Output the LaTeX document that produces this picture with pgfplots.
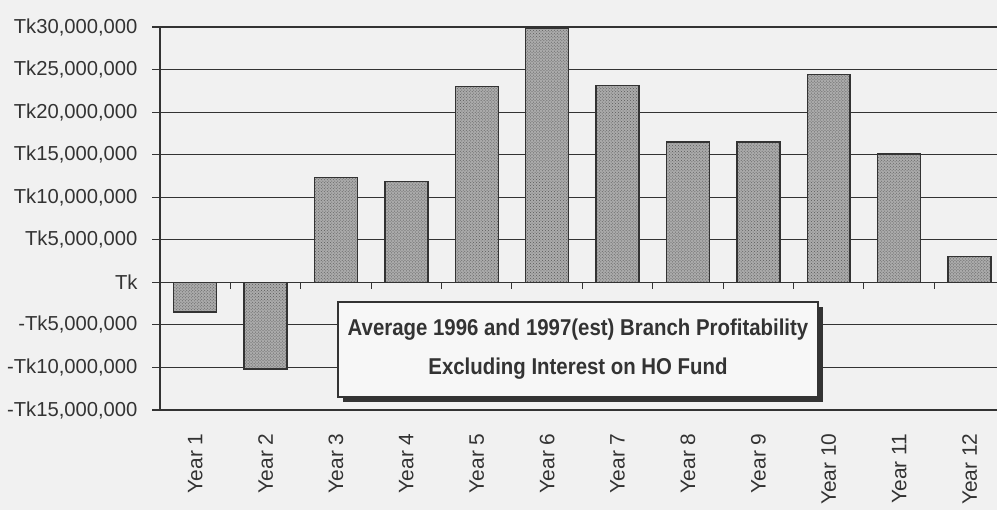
\documentclass[border=0pt]{standalone}
\usepackage{fontspec}
\setmainfont{Liberation Sans}
\newfontfamily\narrowfont[FakeStretch=0.89]{Liberation Sans}
\usepackage{pgfplots}
\pgfplotsset{compat=1.18}
\usetikzlibrary{patterns,shadows}
\definecolor{ink}{HTML}{333333}
\definecolor{paper}{HTML}{F1F1F1}

\pgfplotstableread{
x  y
1  -3.5
2  -10.2
3  12.3
4  11.85
5  23.0
6  29.9
7  23.1
8  16.5
9  16.5
10 24.4
11 15.1
12 3.05
}\profit

\begin{document}
\begin{tikzpicture}[x=1bp,y=1bp]
  \fill[paper,use as bounding box] (0,0) rectangle (997,510);
  \begin{axis}[at={(160bp,100bp)},anchor=south west,scale only axis,
    width=837bp,height=383bp,
    xmin=0.5,xmax=12.39,ymin=-15,ymax=30,
    separate axis lines,axis x line*=box,axis y line*=left,
    axis line style={ink,line width=1.3bp},
    ytick={-15,-10,...,30},
    yticklabels={{-Tk15,000,000},{-Tk10,000,000},{-Tk5,000,000},{Tk},{Tk5,000,000},{Tk10,000,000},{Tk15,000,000},{Tk20,000,000},{Tk25,000,000},{Tk30,000,000}},
    ymajorgrids,grid style={ink,line width=1.2bp},
    ytick style={ink,line width=1.1bp},
    tick align=outside,major tick length=8bp,
    y tick label style={font=\fontsize{20.3}{21}\selectfont,text=ink,xshift=-11bp},
    xtick={1,...,12},
    xticklabels={Year 1,Year 2,Year 3,Year 4,Year 5,Year 6,Year 7,Year 8,Year 9,Year 10,Year 11,Year 12},
    x tick label style={rotate=90,anchor=east,font=\fontsize{21}{22}\selectfont,text=ink,xshift=-12bp},
    xtick style={draw=none},
    clip=false]
    \addplot[ybar,bar width=0.61,draw=ink,line width=1.5bp,fill=black!33,
      postaction={pattern=crosshatch dots,pattern color=black!65}]
      table[x=x,y=y]{\profit};
    \pgfplotsinvokeforeach{1.5,2.5,3.5,4.5,5.5,6.5,7.5,8.5,9.5,10.5,11.5}{
      \draw[ink,line width=1bp] (axis cs:#1,0) -- (axis cs:#1,-0.75);
    }
  \end{axis}
  \node[draw=ink,line width=1.2bp,fill=black!3,
    drop shadow={shadow xshift=5bp,shadow yshift=-5bp,fill=ink,opacity=1},
    minimum width=480bp,minimum height=95bp,align=center,text=ink,
    font=\narrowfont\bfseries\fontsize{23}{39}\selectfont]
    at (578,160.5) {Average 1996 and 1997(est) Branch Profitability\\Excluding Interest on HO Fund};
\end{tikzpicture}
\end{document}
